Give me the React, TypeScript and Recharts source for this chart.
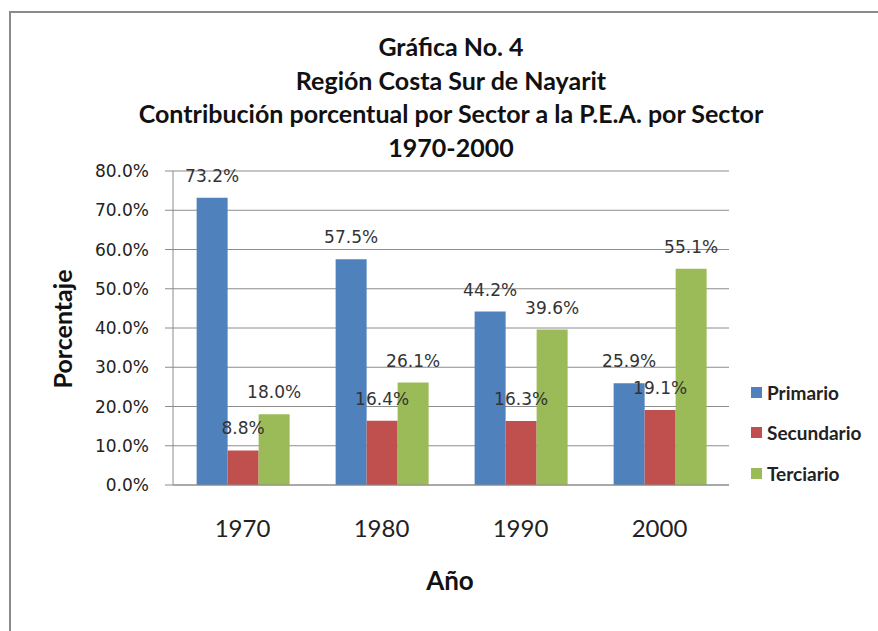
import { BarChart, Bar, XAxis, YAxis, CartesianGrid, LabelList } from "recharts";

const YEARS = ["1970", "1980", "1990", "2000"];
const PRIMARIO = [73.2, 57.5, 44.2, 25.9];
const SECUNDARIO = [8.8, 16.4, 16.3, 19.1];
const TERCIARIO = [18.0, 26.1, 39.6, 55.1];
const Y_TICKS = [0, 10, 20, 30, 40, 50, 60, 70, 80];

const SERIES = [
  { key: "Primario", color: "#4f81bd" },
  { key: "Secundario", color: "#c0504d" },
  { key: "Terciario", color: "#9bbb59" },
];

const data = YEARS.map((year, i) => ({
  year,
  Primario: PRIMARIO[i],
  Secundario: SECUNDARIO[i],
  Terciario: TERCIARIO[i],
}));

const TITLE = [
  "Gráfica No. 4",
  "Región Costa Sur de Nayarit",
  "Contribución porcentual por Sector a la P.E.A. por Sector",
  "1970-2000",
];

const FONT = "Lato, 'Open Sans', sans-serif";
const LABEL_FONT = "'DejaVu Sans', sans-serif";

export default function App() {
  return (
    <div style={{ position: "absolute", left: 0, top: 0, width: 878, height: 631, overflow: "hidden", background: "#fff" }}>
      <div style={{ position: "absolute", left: 9, top: 11, width: 1000, height: 1000, border: "2px solid #8a8a8a" }} />
      <div style={{ position: "absolute", left: 0, top: 30, width: 902, textAlign: "center", fontFamily: FONT, fontWeight: 700, fontSize: 25, color: "#111", lineHeight: "33.5px" }}>
        {TITLE.map((t) => <div key={t}>{t}</div>)}
      </div>
      <div style={{ position: "absolute", left: 62, top: 329, transform: "translate(-50%, -50%) rotate(-90deg)", fontFamily: FONT, fontWeight: 700, fontSize: 25, color: "#111", whiteSpace: "nowrap" }}>
        Porcentaje
      </div>
      <div style={{ position: "absolute", left: 450, top: 580, transform: "translate(-50%, -50%)", fontFamily: FONT, fontWeight: 700, fontSize: 26, color: "#111" }}>
        Año
      </div>
      <div style={{ position: "absolute", left: 0, top: 0 }}>
        <BarChart width={878} height={631} data={data} margin={{ top: 171, right: 149, bottom: 0, left: 0 }}
          barCategoryGap="17%" barGap={0}>
          <CartesianGrid vertical={false} stroke="#8c8c8c" />
          <XAxis dataKey="year" height={146} axisLine={{ stroke: "#8c8c8c" }} tickLine={false} tickMargin={29}
            tick={{ fontFamily: FONT, fontSize: 24, fill: "#222" }} />
          <YAxis width={173} domain={[0, 80]} ticks={Y_TICKS} axisLine={{ stroke: "#8c8c8c" }}
            tickLine={{ stroke: "#8c8c8c" }} tickSize={8} tickMargin={16}
            tickFormatter={(v: number) => `${v.toFixed(1)}%`}
            tick={{ fontFamily: LABEL_FONT, fontSize: 17, fill: "#222" }} />
          {SERIES.map((s) => (
            <Bar key={s.key} dataKey={s.key} fill={s.color} isAnimationActive={false}>
              <LabelList dataKey={s.key} position="top" offset={16}
                formatter={(v: number) => `${v.toFixed(1)}%`}
                style={{ fontFamily: LABEL_FONT, fontSize: 17, fill: "#333" }} />
            </Bar>
          ))}
        </BarChart>
      </div>
      <div style={{ position: "absolute", left: 751, top: 372, fontFamily: FONT, fontSize: 19, fontWeight: 700, color: "#222" }}>
        {SERIES.map((s) => (
          <div key={s.key} style={{ display: "flex", alignItems: "center", height: 40.5 }}>
            <span style={{ width: 11, height: 11, background: s.color, marginRight: 5, display: "inline-block" }} />
            {s.key}
          </div>
        ))}
      </div>
    </div>
  );
}
